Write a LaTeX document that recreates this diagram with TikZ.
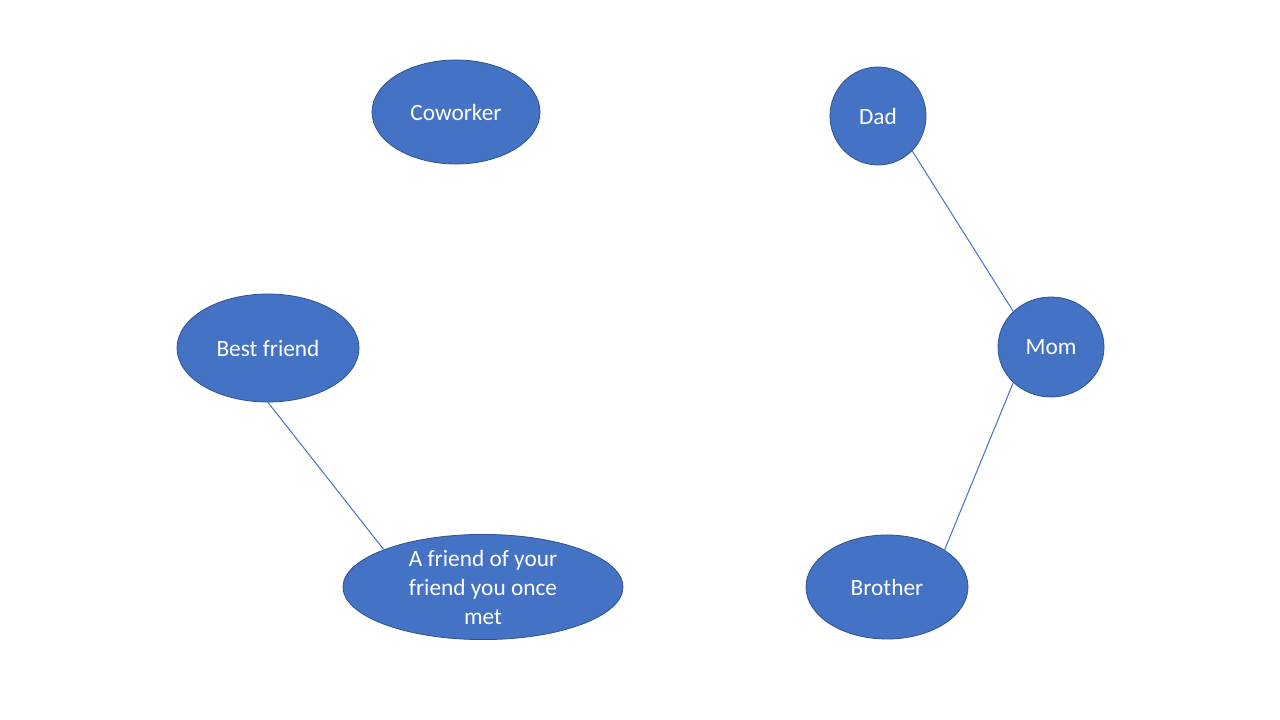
\documentclass[tikz,border=0pt]{standalone}
\usepackage{fontspec}
\setmainfont{Carlito}
\usetikzlibrary{shapes.geometric}
\definecolor{nodefill}{HTML}{4472C4}
\definecolor{nodeedge}{HTML}{2F528F}
\begin{document}
\begin{tikzpicture}[x=0.75pt,y=-0.75pt,
  bubble/.style={ellipse,draw=nodeedge,line width=0.6pt,fill=nodefill,inner sep=0pt,
    text=white,font=\fontsize{17.5}{21.75}\selectfont,align=center},
  link/.style={draw=nodefill,line width=0.75pt}]
\useasboundingbox[fill=white] (0,0) rectangle (1280,720);
\node[bubble,minimum width=168*0.75pt,minimum height=104*0.75pt] (cw) at (456,112) {Coworker};
\node[bubble,minimum width=96*0.75pt,minimum height=98*0.75pt] (dad) at (878,116) {Dad};
\node[bubble,minimum width=182*0.75pt,minimum height=108*0.75pt] (bf) at (268,348) {Best friend};
\node[bubble,minimum width=106*0.75pt,minimum height=100*0.75pt] (mom) at (1051,347) {Mom};
\node[bubble,minimum width=280*0.75pt,minimum height=104*0.75pt] (fr) at (483,587) {A friend of your\\friend you once\\met};
\node[bubble,minimum width=162*0.75pt,minimum height=104*0.75pt] (br) at (887,587) {Brother};
\draw[link] (bf.south) -- (fr.north west);
\draw[link] (dad.south east) -- (mom.north west);
\draw[link] (mom.south west) -- (br.north east);
\end{tikzpicture}
\end{document}
